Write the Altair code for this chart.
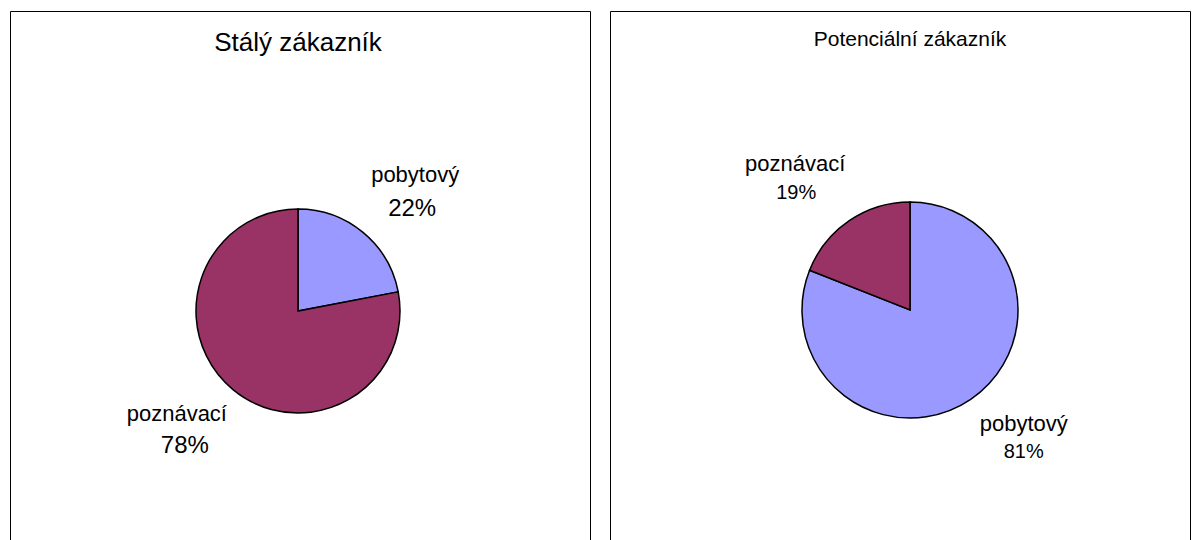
import altair as alt
import pandas as pd

# ---- data ----
categories = ["pobytový", "poznávací"]
staly_values = [22, 78]          # Stálý zákazník
potencialni_values = [81, 19]    # Potenciální zákazník
titles = ["Stálý zákazník", "Potenciální zákazník"]
colors = ["#9999FF", "#993366"]

FONT = "Liberation Sans, Arial, Helvetica, sans-serif"
W, H = 580, 540


def panel(title, values, cx, cy, r, title_size, title_y, label_r,
          name_size, pct_size, offsets):
    total = sum(values)
    df = pd.DataFrame({"cat": categories, "value": values,
                       "order": list(range(len(categories)))})
    theta_scale = alt.Scale(domain=[0, total])
    base = (
        alt.Chart(df)
        .transform_stack(stack="value", groupby=[], as_=["v0", "v1"],
                         sort=[alt.SortField(field="order", order="ascending")])
        .transform_joinaggregate(total="sum(value)")
        .transform_calculate(mid="(datum.v0 + datum.v1) / 2",
                             pct="round(100 * datum.value / datum.total) + '%'")
    )
    arcs = base.mark_arc(outerRadius=r, stroke="black", strokeWidth=1.5).encode(
        theta=alt.Theta("v0:Q", scale=theta_scale),
        theta2="v1:Q",
        color=alt.Color("cat:N", scale=alt.Scale(domain=categories, range=colors),
                        legend=None),
        x=alt.value(cx),
        y=alt.value(cy),
    )
    layers = [arcs]
    for cat, (ndx, ndy, pdx, pdy) in offsets.items():
        sel = base.transform_filter(alt.datum.cat == cat)
        enc = dict(theta=alt.Theta("mid:Q", scale=theta_scale),
                   x=alt.value(cx), y=alt.value(cy))
        layers.append(
            sel.mark_text(radius=label_r, font=FONT, fontSize=name_size,
                          dx=ndx, dy=ndy, align="center", baseline="alphabetic",
                          color="black")
            .encode(text="cat:N", **enc)
        )
        layers.append(
            sel.mark_text(radius=label_r, font=FONT, fontSize=pct_size,
                          dx=pdx, dy=pdy, align="center", baseline="alphabetic",
                          color="black")
            .encode(text="pct:N", **enc)
        )
    ttl = (
        alt.Chart(pd.DataFrame({"t": [title]}))
        .mark_text(font=FONT, fontSize=title_size, align="center",
                   baseline="alphabetic", color="black")
        .encode(text="t:N", x=alt.value(cx), y=alt.value(title_y))
    )
    layers.append(ttl)
    return alt.layer(*layers).properties(width=W, height=H)


left = panel(titles[0], staly_values, cx=288, cy=300, r=102, title_size=26,
             title_y=40, label_r=165, name_size=22, pct_size=24,
             offsets={"pobytový": (12, -2, 9, 32),
                      "poznávací": (-16, -17, -8, 15)})
right = panel(titles[1], potencialni_values, cx=300, cy=299, r=108,
              title_size=21, title_y=35, label_r=165, name_size=22, pct_size=20,
              offsets={"pobytový": (21, -15, 21, 12),
                       "poznávací": (-22, -3, -21, 25)})

chart = (
    alt.hconcat(left, right, spacing=18)
    .properties(padding={"left": 9, "top": 10, "right": 0, "bottom": 0},
                background="white")
    .configure_view(stroke="black", strokeWidth=1)
)

chart.save("out.html", embed_options={"renderer": "svg", "actions": False})
